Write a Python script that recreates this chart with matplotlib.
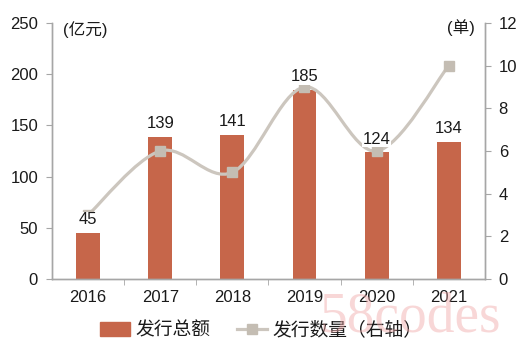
import matplotlib
matplotlib.use("Agg")
import matplotlib.pyplot as plt
from matplotlib.path import Path
from matplotlib.patches import PathPatch
from matplotlib.lines import Line2D
from matplotlib.patches import Patch

plt.rcParams['font.family'] = ['Liberation Sans', 'Noto Sans CJK SC', 'DejaVu Sans']

years = ['2016', '2017', '2018', '2019', '2020', '2021']
amount = [45, 139, 141, 185, 124, 134]      # 发行总额 (亿元)
count = [3, 6, 5, 9, 6, 10]                 # 发行数量 (单)

bar_color = '#C6664A'
line_color = '#CCC6BE'
marker_color = '#C4BDB3'
axis_gray = '#A6A6A6'
text_color = '#1A1A1A'

fig = plt.figure(figsize=(5.23, 3.48), dpi=100)
ax = fig.add_axes([0.0994, 0.198, 0.8276, 0.736])
ax2 = ax.twinx()

x = list(range(len(years)))
ax.bar(x, amount, width=0.33, color=bar_color, zorder=2)

# smoothed line: Catmull-Rom segments as cubic Bezier curves
pts = list(zip(x, count))
verts = [pts[0]]
codes = [Path.MOVETO]
for i in range(len(pts) - 1):
    p0 = pts[max(i - 1, 0)]
    p1 = pts[i]
    p2 = pts[i + 1]
    p3 = pts[min(i + 2, len(pts) - 1)]
    c1 = (p1[0] + (p2[0] - p0[0]) / 6, p1[1] + (p2[1] - p0[1]) / 6)
    c2 = (p2[0] - (p3[0] - p1[0]) / 6, p2[1] - (p3[1] - p1[1]) / 6)
    verts += [c1, c2, p2]
    codes += [Path.CURVE4] * 3
ax2.add_patch(PathPatch(Path(verts, codes), facecolor='none',
                        edgecolor=line_color, lw=2.3, zorder=2))
ax2.plot(x, count, ls='none', marker='s', ms=7, mfc=marker_color,
         mec=marker_color, zorder=3)

for xi, v in zip(x, amount):
    ax2.annotate(str(v), (xi, v * 12 / 250), xytext=(0, 4),
                 textcoords='offset points', ha='center', va='bottom',
                 fontsize=12, color=text_color, zorder=5,
                 bbox=dict(boxstyle='square,pad=0.05', fc='white', ec='none'))

ax.set_xlim(-0.5, len(years) - 0.5)
ax.set_ylim(0, 250)
ax2.set_ylim(0, 12)
ax.set_yticks(range(0, 251, 50))
ax2.set_yticks(range(0, 13, 2))
ax.set_xticks(x)
ax.set_xticklabels(years)
ax.set_xticks([i + 0.5 for i in x[:-1]], minor=True)
ax.tick_params(axis='x', which='major', length=0, pad=8, labelsize=12,
               labelcolor=text_color)
ax.tick_params(axis='x', which='minor', length=4, color=axis_gray, direction='out')
ax.tick_params(axis='y', length=4, color=axis_gray, labelsize=12,
               labelcolor=text_color, pad=6)
ax2.tick_params(axis='y', length=4, color=axis_gray, labelsize=12,
                labelcolor=text_color, pad=6)

for a in (ax, ax2):
    a.spines['top'].set_visible(False)
    for s in ('left', 'right', 'bottom'):
        a.spines[s].set_color(axis_gray)
        a.spines[s].set_linewidth(1.0)

fig.text(0.12, 0.915, '(亿元)', fontsize=12, color=text_color, va='center')
fig.text(0.855, 0.92, '(单)', fontsize=12, color=text_color, va='center')

handles = [Patch(color=bar_color),
           Line2D([], [], color=line_color, lw=2.3, marker='s', ms=7,
                  mfc=marker_color, mec=marker_color)]
fig.legend(handles, ['发行总额', '发行数量（右轴）'], loc='center',
           bbox_to_anchor=(0.5, 0.05), ncol=2, frameon=False,
           fontsize=13.5, handlelength=1.6, handletextpad=0.3,
           columnspacing=1.4, labelcolor=text_color)

fig.text(0.612, 0.047, '58codes', fontsize=40, family='Liberation Serif',
         color='#F0A8A8', alpha=0.45, zorder=10)

fig.savefig('out.png', dpi=100)
